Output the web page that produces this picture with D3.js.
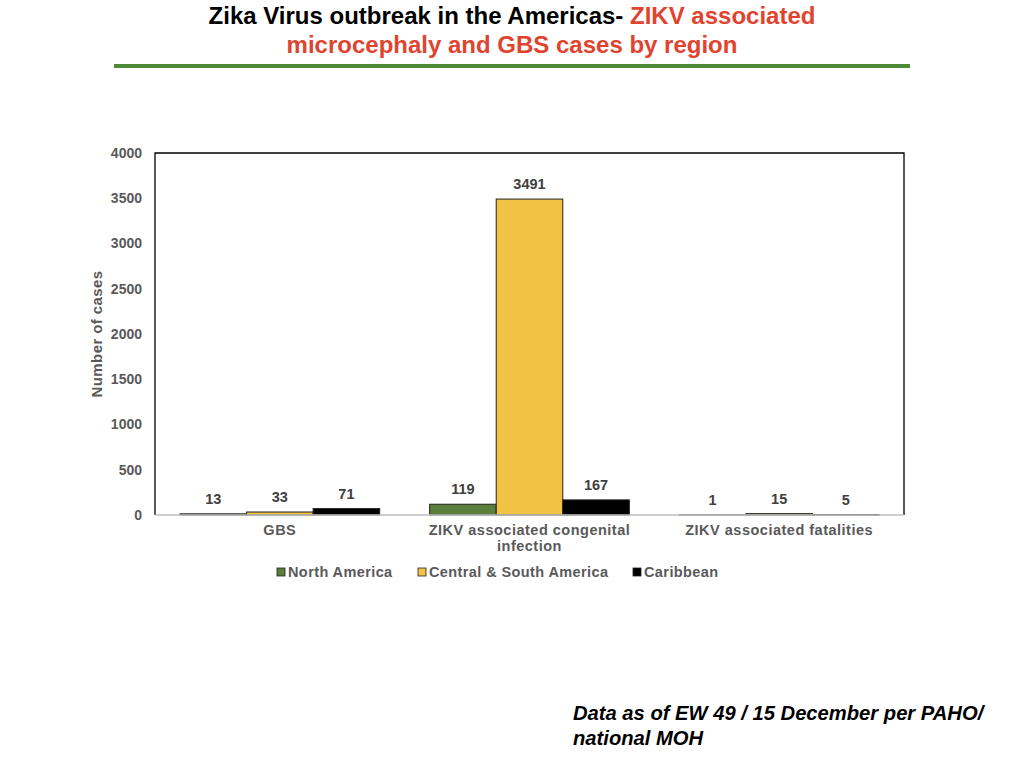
<!DOCTYPE html>
<html><head><meta charset="utf-8">
<script src="https://cdn.jsdelivr.net/npm/d3@7"></script>
<style>body{margin:0;background:#fff;} svg{display:block;}</style>
</head><body>
<svg id="c" width="1024" height="768"></svg>
<script>
const categories = ["GBS", "ZIKV associated congenital infection", "ZIKV associated fatalities"];
const categoryLines = [["GBS"], ["ZIKV associated congenital", "infection"], ["ZIKV associated fatalities"]];
const seriesNames = ["North America", "Central & South America", "Caribbean"];
const northAmerica = [13, 119, 1];
const centralSouthAmerica = [33, 3491, 15];
const caribbean = [71, 167, 5];
const yTicks = [0, 500, 1000, 1500, 2000, 2500, 3000, 3500, 4000];
const colors = ["#5b7f3b", "#f2c244", "#000000"];

const seriesValues = [northAmerica, centralSouthAmerica, caribbean];
const svg = d3.select("#c");
const m = {left: 155, right: 904, top: 153, bottom: 515};
const gray = "#595959";
const font = "'Liberation Sans', Arial, sans-serif";

// Title
const t = svg.append("text").attr("text-anchor", "middle").attr("font-family", "'Liberation Sans Narrow', 'Liberation Sans', Arial, sans-serif")
  .attr("font-weight", "bold").attr("font-size", 24);
const l1 = t.append("tspan").attr("x", 512).attr("y", 24);
l1.append("tspan").attr("fill", "#000").text("Zika Virus outbreak in the Americas- ");
l1.append("tspan").attr("fill", "#e0442f").text("ZIKV associated");
t.append("tspan").attr("x", 512).attr("y", 53).attr("fill", "#e0442f").text("microcephaly and GBS cases by region");
svg.append("rect").attr("x", 114).attr("y", 64).attr("width", 796).attr("height", 4).attr("fill", "#4c8a35");

const x0 = d3.scaleBand().domain(categories).range([m.left, m.right]).paddingInner(0.2).paddingOuter(0.1);
const x1 = d3.scaleBand().domain(seriesNames).range([0, x0.bandwidth()]);
const y = d3.scaleLinear().domain([0, 4000]).range([m.bottom, m.top]);

// frame
svg.append("path").attr("d", `M${m.left},${m.bottom}V${m.top}H${m.right}V${m.bottom}`)
  .attr("fill", "none").attr("stroke", "#000").attr("stroke-width", 1.3);

// y axis
const ya = svg.append("g").attr("transform", `translate(${m.left},0)`)
  .call(d3.axisLeft(y).tickValues(yTicks).tickFormat(d3.format("d")).tickSize(0).tickPadding(13));
ya.select(".domain").remove();
ya.selectAll("text").attr("font-family", font).attr("font-weight", "bold").attr("font-size", 14).attr("fill", gray);

svg.append("text").attr("transform", `translate(102,${(m.top + m.bottom) / 2}) rotate(-90)`)
  .attr("text-anchor", "middle").attr("font-family", font).attr("font-weight", "bold").attr("font-size", 15)
  .attr("fill", gray).attr("letter-spacing", 0.4).text("Number of cases");

// bars
categories.forEach((c, ci) => {
  seriesNames.forEach((s, si) => {
    const v = seriesValues[si][ci];
    const bx = x0(c) + x1(s);
    svg.append("rect").attr("x", bx).attr("y", y(v)).attr("width", x1.bandwidth()).attr("height", y(0) - y(v))
      .attr("fill", colors[si]).attr("stroke", "#222").attr("stroke-width", 1);
    svg.append("text").attr("x", bx + x1.bandwidth() / 2).attr("y", y(v) - 10).attr("text-anchor", "middle")
      .attr("font-family", font).attr("font-weight", "bold").attr("font-size", 14.5).attr("fill", "#404040").text(v);
  });
});

// x axis line
svg.append("line").attr("x1", m.left).attr("x2", m.right).attr("y1", m.bottom).attr("y2", m.bottom)
  .attr("stroke", "#bfbfbf").attr("stroke-width", 1.3);

categories.forEach((c, ci) => {
  const tx = svg.append("text").attr("text-anchor", "middle").attr("font-family", font).attr("font-weight", "bold")
    .attr("font-size", 14.5).attr("fill", gray).attr("letter-spacing", 0.5);
  categoryLines[ci].forEach((ln, li) => {
    tx.append("tspan").attr("x", x0(c) + x0.bandwidth() / 2).attr("y", 535 + li * 16).text(ln);
  });
});

// legend
const legX = [277, 418, 633];
seriesNames.forEach((s, i) => {
  svg.append("rect").attr("x", legX[i]).attr("y", 568).attr("width", 8).attr("height", 8)
    .attr("fill", colors[i]).attr("stroke", "#222").attr("stroke-width", 0.8);
  svg.append("text").attr("x", legX[i] + 11).attr("y", 577).attr("font-family", font).attr("font-weight", "bold")
    .attr("font-size", 14.5).attr("fill", gray).attr("letter-spacing", 0.4).text(s);
});

// footnote
const fn = svg.append("text").attr("font-family", font).attr("font-weight", "bold").attr("font-style", "italic")
  .attr("font-size", 20.2).attr("fill", "#000");
fn.append("tspan").attr("x", 573).attr("y", 720).text("Data as of EW 49 / 15 December per PAHO/");
fn.append("tspan").attr("x", 573).attr("y", 745).text("national MOH");
</script>
</body></html>
